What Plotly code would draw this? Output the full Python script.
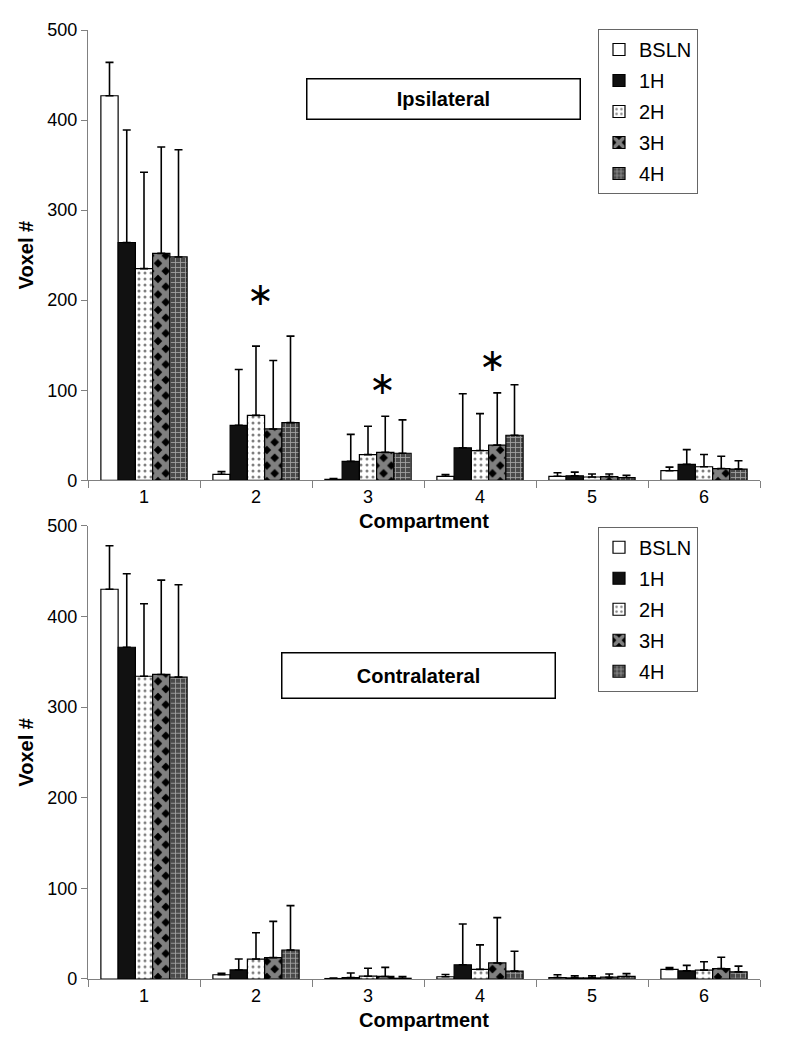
import plotly.graph_objects as go
from plotly.subplots import make_subplots

compartments = ["1", "2", "3", "4", "5", "6"]
series_names = ["BSLN", "1H", "2H", "3H", "4H"]

# Ipsilateral (top panel) means and upper SD
ipsi_bsln = [427, 6.6, 1, 4.4, 4.4, 10.6]
ipsi_1h = [264, 61, 21, 36, 5, 17.6]
ipsi_2h = [235, 72, 28.5, 33, 3.6, 15]
ipsi_3h = [252, 57, 31, 39, 4, 13]
ipsi_4h = [248, 64, 30, 50, 3, 12.4]
ipsi_bsln_sd = [37, 3, 1, 2, 4, 4]
ipsi_1h_sd = [125, 62, 30, 60, 4, 16.4]
ipsi_2h_sd = [107, 77, 31.5, 41, 3.4, 13.6]
ipsi_3h_sd = [118, 76, 40, 58, 3, 13.7]
ipsi_4h_sd = [119, 96, 37, 56, 2.5, 9.2]

# Contralateral (bottom panel) means and upper SD
contra_bsln = [430, 4.7, 0.5, 2.5, 1.6, 10.6]
contra_1h = [366, 10, 1.6, 15.7, 1.2, 9]
contra_2h = [334, 22, 3.1, 10.6, 1.2, 9.8]
contra_3h = [336, 23.6, 2.8, 17.7, 2, 11.4]
contra_4h = [333, 32, 0.8, 8.7, 2.8, 7.9]
contra_bsln_sd = [48, 1.6, 0.5, 2.5, 3.1, 2]
contra_1h_sd = [81, 12, 5, 45, 2.3, 6]
contra_2h_sd = [80, 29, 8.7, 27, 2.3, 9.2]
contra_3h_sd = [104, 40, 10, 50, 3.5, 12.6]
contra_4h_sd = [102, 49, 2, 22, 3.1, 6.3]

# significance markers (compartment, y value)
ipsi_star_cats = ["2", "3", "4"]
ipsi_star_vals = [207, 108, 134]

ipsi_vals = [ipsi_bsln, ipsi_1h, ipsi_2h, ipsi_3h, ipsi_4h]
ipsi_sds = [ipsi_bsln_sd, ipsi_1h_sd, ipsi_2h_sd, ipsi_3h_sd, ipsi_4h_sd]
contra_vals = [contra_bsln, contra_1h, contra_2h, contra_3h, contra_4h]
contra_sds = [contra_bsln_sd, contra_1h_sd, contra_2h_sd, contra_3h_sd, contra_4h_sd]

styles = [
    dict(color="white", pattern=dict(shape="")),
    dict(color="#111111", pattern=dict(shape="")),
    dict(color="white", pattern=dict(shape=".", fgcolor="black", bgcolor="white", size=6, solidity=0.2, fillmode="overlay")),
    dict(color="black", pattern=dict(shape="x", fgcolor="white", bgcolor="black", size=11, solidity=0.7, fillmode="overlay")),
    dict(color="#4a4a4a", pattern=dict(shape="+", fgcolor="white", bgcolor="#4a4a4a", size=5, solidity=0.3, fillmode="overlay")),
]

fig = make_subplots(rows=2, cols=1, vertical_spacing=0.0)

for row, vals, sds, leg in [(1, ipsi_vals, ipsi_sds, "legend"), (2, contra_vals, contra_sds, "legend2")]:
    for name, v, sd, st in zip(series_names, vals, sds, styles):
        fig.add_trace(go.Bar(
            x=compartments, y=v, name=name, legend=leg, legendgroup=leg + name,
            marker=dict(color=st["color"], pattern=st["pattern"], line=dict(color="black", width=1.2)),
            error_y=dict(type="data", array=sd, arrayminus=[0] * len(sd), symmetric=False,
                         color="black", thickness=1.6, width=4),
        ), row=row, col=1)

# page offset of 8px (browser body margin) compensated
O = 8
W, H = 796 - O, 1050 - O
bot_px, top_px = 979, 20
span = bot_px - top_px
def py(y):
    return (bot_px - y) / span
def px(x):
    return (x - 88) / 672

fig.update_layout(
    width=W, height=H,
    margin=dict(l=88 - O, r=W - (760 - O), t=top_px - O, b=H - (bot_px - O)),
    paper_bgcolor="white", plot_bgcolor="white",
    barmode="group", bargap=0.23, bargroupgap=0,
    font=dict(family="Liberation Sans, Arial", size=18, color="black"),
    legend=dict(x=px(598), y=py(19), xanchor="left", yanchor="top",
                bordercolor="#666666", borderwidth=1, bgcolor="white",
                font=dict(size=20), itemwidth=30, tracegroupgap=2),
    legend2=dict(x=px(598), y=py(522), xanchor="left", yanchor="top",
                 bordercolor="#666666", borderwidth=1, bgcolor="white",
                 font=dict(size=20), itemwidth=30, tracegroupgap=2),
    showlegend=True,
)

fig.update_yaxes(domain=[py(475), py(20)], row=1, col=1)
fig.update_yaxes(domain=[py(979), py(521)], row=2, col=1)

for r in (1, 2):
    fig.update_xaxes(row=r, col=1, type="category", tickson="boundaries", ticks="outside",
                     ticklen=7, tickcolor="#808080", showline=True, linecolor="#808080", linewidth=1.2,
                     showgrid=False, tickfont=dict(size=18),
                     title=dict(text="<b>Compartment</b>", font=dict(size=20), standoff=8))
    fig.update_yaxes(row=r, col=1, range=[0, 500], dtick=100, ticks="outside", ticklen=6,
                     tickcolor="#808080", showline=True, linecolor="#808080", linewidth=1.2,
                     showgrid=False, zeroline=False, tickfont=dict(size=18),
                     title=dict(text="<b>Voxel #</b>", font=dict(size=20), standoff=8))

# panel titles
fig.add_annotation(xref="paper", yref="paper", x=px(443), y=py(90), xanchor="center", yanchor="middle",
                   text="<b>Ipsilateral</b>", showarrow=False, font=dict(size=20),
                   width=268, height=35, bordercolor="black", borderwidth=1.5, borderpad=2, bgcolor="white")
fig.add_annotation(xref="paper", yref="paper", x=px(418), y=py(672), xanchor="center", yanchor="middle",
                   text="<b>Contralateral</b>", showarrow=False, font=dict(size=20),
                   width=268, height=40, bordercolor="black", borderwidth=1.5, borderpad=2, bgcolor="white")

# significance asterisks
shifts = [4, 14, 12]
for c, v, s in zip(ipsi_star_cats, ipsi_star_vals, shifts):
    fig.add_annotation(x=compartments.index(c), y=v, xref="x", yref="y", text="∗", showarrow=False,
                       xanchor="center", yanchor="middle",
                       xshift=s, font=dict(size=32, family="DejaVu Sans"))

fig.write_html("out.html")
